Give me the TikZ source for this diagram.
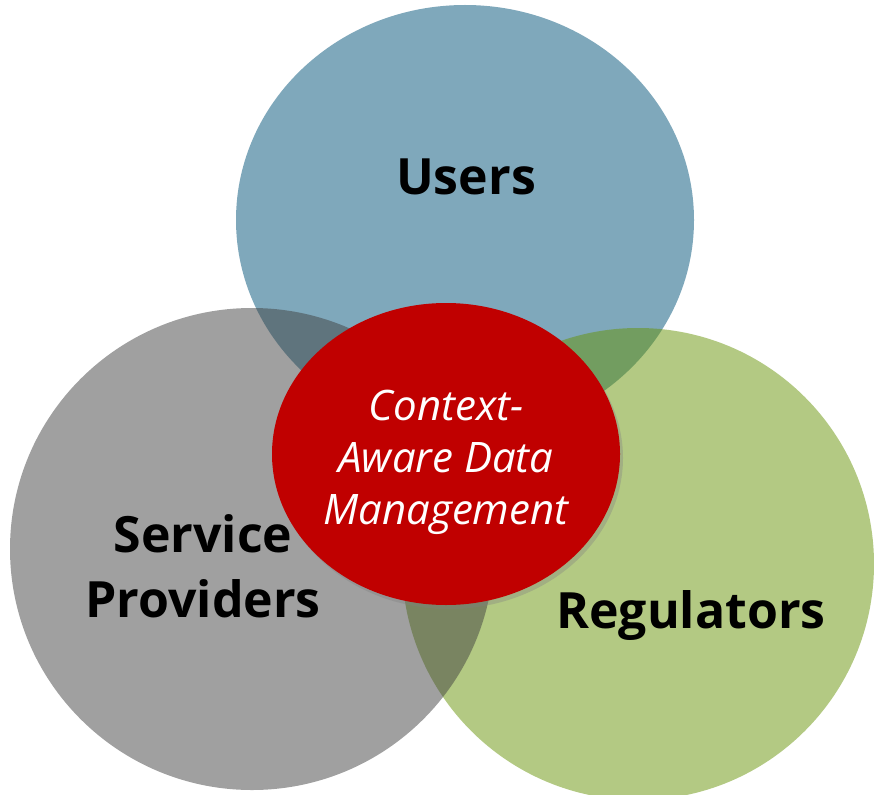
\documentclass[tikz,border=0pt]{standalone}
\usepackage{fontspec}
\setmainfont{Open Sans}
\usepackage{xcolor}
\usepackage{tikz}
\usetikzlibrary{shadows}
\definecolor{userblue}{RGB}{0,81,119}
\definecolor{reggreen}{RGB}{103,147,7}
\definecolor{provgray}{RGB}{65,65,65}
\definecolor{cadmred}{RGB}{192,0,0}
\tikzset{
  disc/.style={fill=#1, fill opacity=0.5, draw=none},
  biglabel/.style={font=\bfseries\fontsize{50}{65}\selectfont, text=black, align=center, inner sep=0pt},
  corelabel/.style={font=\itshape\fontsize{42}{52}\selectfont, text=white, align=center, inner sep=0pt}
}

\begin{document}
\begin{tikzpicture}[x=1pt,y=-1pt]
   \useasboundingbox (0,0) rectangle (874,794);
   % the three circles
   \fill[disc=userblue] (465,220) ellipse [x radius=229pt, y radius=215pt];
   \fill[disc=reggreen] (638,564) ellipse [x radius=236pt, y radius=236pt];
   \fill[disc=provgray] (252,549) ellipse [x radius=242pt, y radius=241pt];
   % the core
   \fill[cadmred, drop shadow={shadow xshift=3pt, shadow yshift=-4pt, opacity=0.35}]
     (446,454) ellipse [x radius=174pt, y radius=151pt];
   \node[biglabel, anchor=base] (users) at (466,195) {Users};
   \node[biglabel] (providers) at (203,566) {Service\\Providers};
   \node[biglabel, anchor=base] (regulators) at (691,628) {Regulators};
   \node[corelabel] (cadm) at (446,462) {Context-\\Aware Data\\Management};
\end{tikzpicture}
\end{document}
